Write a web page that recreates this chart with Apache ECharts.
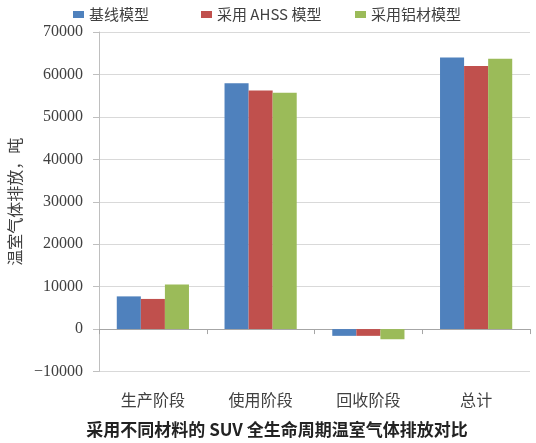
<!DOCTYPE html>
<html>
<head>
<meta charset="utf-8">
<script src="https://cdn.jsdelivr.net/npm/echarts@6/dist/echarts.min.js"></script>
<style>
html,body{margin:0;padding:0;background:#fff;}
#c{width:536px;height:443px;}
</style>
</head>
<body>
<div id="c"></div>
<script>
const categories = ['生产阶段', '使用阶段', '回收阶段', '总计'];
const seriesNames = ['基线模型', '采用 AHSS 模型', '采用铝材模型'];
const baseline = [7700, 57900, -1600, 64000];
const ahss = [7100, 56200, -1600, 62000];
const aluminum = [10500, 55700, -2400, 63700];
const yMin = -10000, yMax = 70000, yStep = 10000;
const colors = ['#4F81BD', '#C0504D', '#9BBB59'];

const chart = echarts.init(document.getElementById('c'));
const legendStyle = {fontSize: 15, color: '#404040', fontFamily: 'Noto Sans CJK SC'};
const mkLegend = (name, left) => ({
  data: [name], left: left, top: 2, itemWidth: 11, itemHeight: 7,
  icon: 'rect', textStyle: legendStyle, itemGap: 0
});
chart.setOption({
  animation: false,
  color: colors,
  title: {
    text: '采用不同材料的 SUV 全生命周期温室气体排放对比',
    left: 272, top: 416, textAlign: 'center',
    textStyle: {fontSize: 17, fontWeight: 'bold', color: '#222', fontFamily: 'Noto Sans CJK SC'}
  },
  legend: [mkLegend(seriesNames[0], 68), mkLegend(seriesNames[1], 196), mkLegend(seriesNames[2], 350)],
  grid: {left: 99, right: 6, top: 32, bottom: 71.5, containLabel: false, outerBoundsMode: 'none'},
  xAxis: [{
    type: 'category', data: categories, position: 'bottom',
    axisLine: {onZero: true, lineStyle: {color: '#a6a6a6', width: 1}},
    axisTick: {show: true, length: 5, lineStyle: {color: '#a6a6a6'}},
    axisLabel: {show: false}
  }, {
    type: 'category', data: categories, position: 'bottom',
    axisLine: {show: false, onZero: false}, axisTick: {show: false},
    axisLabel: {margin: 20, fontSize: 16, color: '#404040', fontFamily: 'Noto Sans CJK SC'}
  }],
  yAxis: {
    type: 'value', min: yMin, max: yMax, interval: yStep,
    name: '温室气体排放，吨', nameLocation: 'middle', nameGap: 75, nameRotate: 90,
    nameTextStyle: {fontSize: 16, color: '#404040', fontFamily: 'Noto Sans CJK SC'},
    axisLine: {show: true, lineStyle: {color: '#bfbfbf'}},
    axisTick: {show: true, length: 6, lineStyle: {color: '#bfbfbf'}},
    axisLabel: {
      fontSize: 16, color: '#404040', fontFamily: 'Liberation Serif', margin: 16,
      formatter: v => String(v).replace('-', '−')
    },
    splitLine: {lineStyle: {color: '#d9d9d9'}}
  },
  series: [
    {name: seriesNames[0], type: 'bar', data: baseline, barGap: '0%', barCategoryGap: '33%'},
    {name: seriesNames[1], type: 'bar', data: ahss, barGap: '0%', barCategoryGap: '33%'},
    {name: seriesNames[2], type: 'bar', data: aluminum, barGap: '0%', barCategoryGap: '33%'}
  ]
});
</script>
</body>
</html>
